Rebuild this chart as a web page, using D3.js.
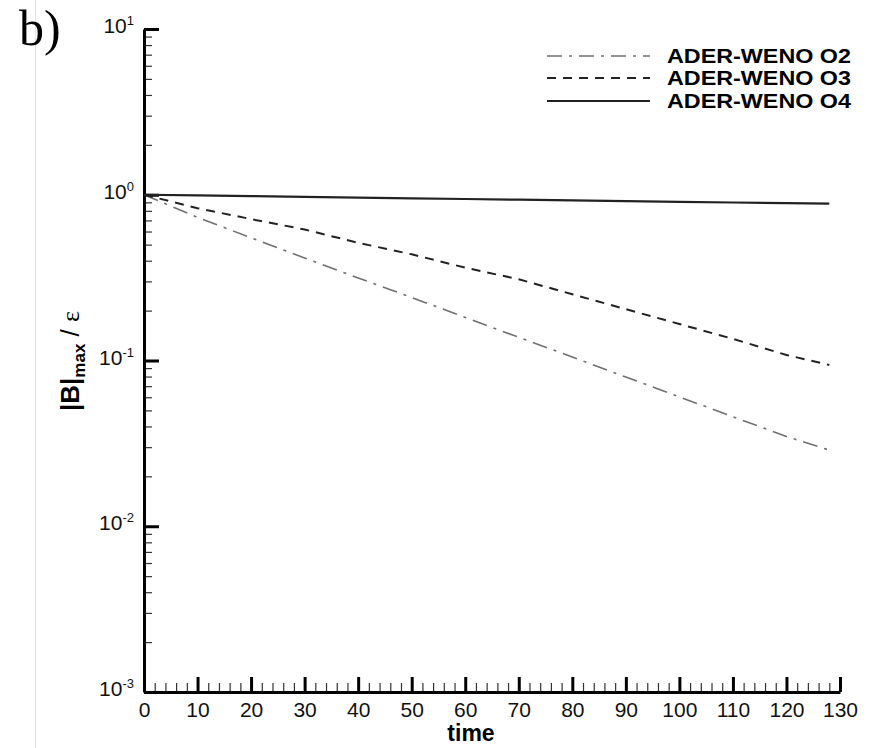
<!DOCTYPE html>
<html>
<head>
<meta charset="utf-8">
<script src="https://cdn.jsdelivr.net/npm/d3@7"></script>
<style>
  body { margin: 0; background: #fff; }
  svg { display: block; }
</style>
</head>
<body>
<div id="chart"></div>
<script>
// data (time vs |B|max / eps)
let times = [0, 10, 20, 30, 40, 50, 60, 70, 80, 90, 100, 110, 120, 128];
let o2Values = [1.0, 0.73, 0.55, 0.415, 0.315, 0.24, 0.182, 0.138, 0.105, 0.0795, 0.0603, 0.0458, 0.0348, 0.0288];
let o3Values = [1.0, 0.83, 0.713, 0.617, 0.513, 0.437, 0.363, 0.309, 0.251, 0.204, 0.166, 0.135, 0.108, 0.094];
let o4Values = [1.0, 0.992, 0.982, 0.972, 0.962, 0.952, 0.943, 0.934, 0.925, 0.916, 0.907, 0.898, 0.889, 0.883];
let seriesNames = ['ADER-WENO O2', 'ADER-WENO O3', 'ADER-WENO O4'];
let xTicks = [0, 10, 20, 30, 40, 50, 60, 70, 80, 90, 100, 110, 120, 130];
let yExponents = [-3, -2, -1, 0, 1];

let width = 881;
let height = 748;
let margin = { top: 29, bottom: 56, left: 144, right: 41 };

let svg = d3.select('#chart')
  .append('svg')
  .attr('width', width)
  .attr('height', height)
  .style('background-color', '#fff');

// faint page edge line on the left
svg.append('line')
  .attr('x1', 35.5).attr('x2', 35.5)
  .attr('y1', 0).attr('y2', height)
  .attr('stroke', '#e2e2e2')
  .attr('stroke-width', 1);

// panel letter
svg.append('text')
  .attr('x', 19)
  .attr('y', 45)
  .style('font-family', '"Liberation Serif", "Times New Roman", serif')
  .style('font-size', '50px')
  .text('b)');

let xScale = d3.scaleLinear()
  .domain([0, 130])
  .range([margin.left, width - margin.right]);

let yScale = d3.scaleLog()
  .domain([1e-3, 10])
  .range([height - margin.bottom, margin.top]);

let yBottom = height - margin.bottom;

// minor ticks first so the major ones sit on top
let xMinor = d3.range(0, 131, 2).filter(d => d % 10 !== 0);
let yMinor = [];
yExponents.slice(0, -1).forEach(e => {
  for (let m = 2; m <= 9; m++) yMinor.push(m * Math.pow(10, e));
});

svg.append('g')
  .attr('class', 'minor')
  .attr('transform', `translate(0,${yBottom})`)
  .call(d3.axisBottom(xScale).tickValues(xMinor).tickSize(-9).tickSizeOuter(0).tickFormat(''))
  .call(g => g.select('.domain').remove())
  .call(g => g.selectAll('line').attr('stroke', '#333').attr('stroke-width', 1.2));

svg.append('g')
  .attr('class', 'minor')
  .attr('transform', `translate(${margin.left},0)`)
  .call(d3.axisLeft(yScale).tickValues(yMinor).tickSize(-8).tickSizeOuter(0).tickFormat(''))
  .call(g => g.select('.domain').remove())
  .call(g => g.selectAll('line').attr('stroke', '#333').attr('stroke-width', 1.2));

// x axis
let xAxis = svg.append('g')
  .attr('transform', `translate(0,${yBottom})`)
  .call(d3.axisBottom(xScale).tickValues(xTicks).tickSize(-15).tickSizeOuter(0).tickPadding(10))
  .call(g => g.select('.domain').attr('stroke', '#000').attr('stroke-width', 3))
  .call(g => g.selectAll('.tick line').attr('stroke', '#000').attr('stroke-width', 3));

xAxis.selectAll('.tick text')
  .style('font-family', '"Liberation Sans", Arial, sans-serif')
  .style('font-size', '21px')
  .attr('fill', '#111');

// y axis, labels drawn as 10 with a superscript exponent
let yAxis = svg.append('g')
  .attr('transform', `translate(${margin.left},0)`)
  .call(d3.axisLeft(yScale).tickValues(yExponents.map(e => Math.pow(10, e))).tickSize(-15).tickSizeOuter(0).tickPadding(10).tickFormat(''))
  .call(g => g.select('.domain').attr('stroke', '#000').attr('stroke-width', 3))
  .call(g => g.selectAll('.tick line').attr('stroke', '#000').attr('stroke-width', 3));

yAxis.selectAll('.tick text')
  .style('font-family', '"Liberation Sans", Arial, sans-serif')
  .attr('fill', '#111')
  .attr('dy', '0.35em')
  .each(function(d, i) {
    let t = d3.select(this);
    t.append('tspan').style('font-size', '21px').text('10');
    t.append('tspan').style('font-size', '13px').attr('dy', -8).text(yExponents[i]);
  });

// axis titles
svg.append('text')
  .attr('x', 471)
  .attr('y', 741)
  .attr('text-anchor', 'middle')
  .style('font-family', '"Liberation Sans", Arial, sans-serif')
  .style('font-size', '23px')
  .style('font-weight', 'bold')
  .text('time');

let yLabel = svg.append('text')
  .attr('transform', 'translate(79,361) rotate(-90)')
  .attr('text-anchor', 'middle')
  .style('font-family', '"Liberation Sans", Arial, sans-serif')
  .style('font-size', '26px')
  .style('font-weight', 'bold');
yLabel.append('tspan').text('|B|');
yLabel.append('tspan').style('font-size', '17px').attr('dy', 6).text('max');
yLabel.append('tspan').attr('dy', -6).style('font-weight', 'normal').text(' / ');
yLabel.append('tspan')
  .style('font-family', '"Liberation Serif", "Times New Roman", serif')
  .style('font-weight', 'normal')
  .text('\u03b5');

// curves
let series = [
  { name: seriesNames[0], values: o2Values, color: '#707070', width: 1.6, dash: '15,7,3,7' },
  { name: seriesNames[1], values: o3Values, color: '#222', width: 2, dash: '9,7' },
  { name: seriesNames[2], values: o4Values, color: '#222', width: 2.2, dash: null }
];

let line = d3.line()
  .x((d, i) => xScale(times[i]))
  .y(d => yScale(d));

svg.append('g')
  .selectAll('path')
  .data(series)
  .enter()
  .append('path')
  .attr('d', d => line(d.values))
  .attr('fill', 'none')
  .attr('stroke', d => d.color)
  .attr('stroke-width', d => d.width)
  .attr('stroke-dasharray', d => d.dash);

// legend
let legendY = [56, 78, 101];
let legend = svg.selectAll('.legend')
  .data(series)
  .enter().append('g')
  .attr('class', 'legend')
  .attr('transform', (d, i) => `translate(0,${legendY[i]})`);

legend.append('line')
  .attr('x1', 547).attr('x2', 650)
  .attr('y1', 0).attr('y2', 0)
  .attr('stroke', d => d.color)
  .attr('stroke-width', d => d.width)
  .attr('stroke-dasharray', d => d.dash);

legend.append('text')
  .attr('x', 667)
  .attr('dy', '0.36em')
  .attr('textLength', 184)
  .attr('lengthAdjust', 'spacingAndGlyphs')
  .style('font-family', '"Liberation Sans", Arial, sans-serif')
  .style('font-size', '20px')
  .style('font-weight', 'bold')
  .text(d => d.name);
</script>
</body>
</html>
